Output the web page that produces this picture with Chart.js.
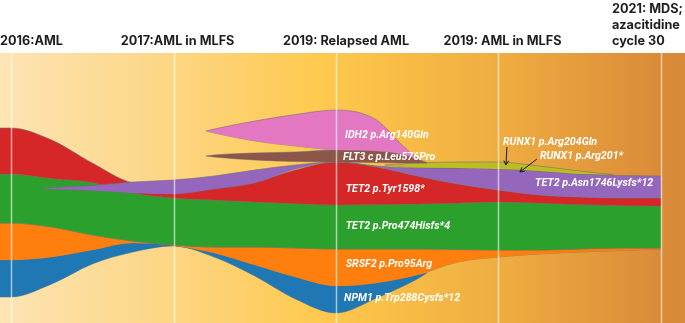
<!DOCTYPE html>
<html>
<head>
<meta charset="utf-8">
<script src="https://cdn.jsdelivr.net/npm/chart.js@4.4.1/dist/chart.umd.min.js"></script>
<style>
  body { margin: 0; background: #fff; }
  #wrap { width: 685px; height: 323px; position: relative; }
</style>
</head>
<body>
<div id="wrap"><canvas id="fish"></canvas></div>
<script>
// time points (2016 .. 2021) and their captions
const timepoints = [0, 1, 2, 3, 4];
const timeLabels = [['2016:AML'], ['2017:AML in MLFS'], ['2019: Relapsed AML'], ['2019: AML in MLFS'], ['2021: MDS;', 'azacitidine', 'cycle 30']];

// clone bands: x = time, top / bottom = vertical extent (0 at top of plot)
const npm1X      = [-0.07, 0, 0.25, 0.5, 0.75, 1, 1.25, 1.5, 1.75, 2, 2.25, 2.5, 2.56];
const npm1Top    = [260, 260, 257, 250, 243, 245.5, 253, 265, 277, 286, 283, 275, 273];
const npm1Bottom = [297, 297, 284, 264, 252, 246, 257, 276, 299, 313, 298, 279, 273];

const srsf2X      = [-0.07, 0, 0.25, 0.5, 0.75, 1, 1.25, 1.5, 1.75, 2, 2.25, 2.5, 2.75, 3, 3.25, 3.5, 3.75, 4];
const srsf2Top    = [223, 223, 227, 235, 241, 245, 247, 247, 248, 249, 249, 249, 249.5, 250, 250, 249, 248, 248];
const srsf2Bottom = [260, 260, 257, 250, 243, 245.5, 253, 265, 277, 286, 283, 275, 262, 257, 254, 252, 250.5, 249];

const tet2aX      = [-0.07, 0, 0.25, 0.5, 0.75, 1, 1.25, 1.5, 1.75, 2, 2.25, 2.5, 2.75, 3, 3.25, 3.5, 3.75, 4];
const tet2aTop    = [174, 174, 178.5, 182.5, 193, 198, 200, 202, 203.5, 205, 204.5, 204, 203, 202, 203, 204.5, 205.5, 206];
const tet2aBottom = [223, 223, 227, 235, 241, 245, 247, 247, 248, 249, 249, 249, 249.5, 250, 250, 249, 248, 248];

const tet2bX      = [-0.07, 0, 0.25, 0.5, 0.75, 1, 1.25, 1.5, 1.75, 2, 2.25, 2.5, 2.75, 3, 3.25, 3.5, 3.75, 4];
const tet2bTop    = [128, 128, 140, 163, 183, 186, 186, 182, 170, 162, 167, 176, 184, 190, 195, 197, 198, 198];
const tet2bBottom = [174, 174, 178.5, 182.5, 193, 198, 200, 202, 203.5, 205, 204.5, 204, 203, 202, 203, 204.5, 205.5, 206];

const tet2cX      = [0.19, 0.25, 0.5, 0.75, 1, 1.25, 1.5, 1.75, 2, 2.25, 2.5, 2.75, 3, 3.25, 3.5, 3.75, 4];
const tet2cTop    = [188, 187.5, 185.5, 182, 180, 176, 170, 165, 162, 166, 168, 168, 169, 171, 174, 175.5, 176];
const tet2cBottom = [188, 189, 190.5, 193, 194, 189, 183, 169, 162, 167, 176, 184, 190, 195, 197, 198, 198];

const runx1X      = [2.3, 2.5, 2.75, 3, 3.25, 3.5, 3.7];
const runx1Top    = [165, 163, 162, 162, 166, 171, 174.5];
const runx1Bottom = [165, 167.5, 168, 169, 171, 174, 174.5];

const flt3X      = [1.2, 1.25, 1.5, 1.75, 2, 2.25, 2.4, 2.5, 2.56];
const flt3Top    = [156, 155, 153, 152, 150, 151, 154, 159, 162.5];
const flt3Bottom = [156, 157, 160, 161.5, 162, 162.5, 163, 163, 163];

const idh2X      = [1.2, 1.25, 1.5, 1.75, 2, 2.25, 2.4, 2.5, 2.55];
const idh2Top    = [131, 129, 121, 114.5, 110, 120, 144, 158, 163];
const idh2Bottom = [131, 133, 141, 146, 150, 151, 154, 159, 163];

// bottom layer first
const clones = [
  { x: npm1X,  top: npm1Top,  bottom: npm1Bottom,  color: '#1f77b4' },
  { x: srsf2X, top: srsf2Top, bottom: srsf2Bottom, color: '#ff7f0e' },
  { x: tet2aX, top: tet2aTop, bottom: tet2aBottom, color: '#2ca02c' },
  { x: tet2bX, top: tet2bTop, bottom: tet2bBottom, color: '#d62728' },
  { x: tet2cX, top: tet2cTop, bottom: tet2cBottom, color: '#9467bd' },
  { x: runx1X, top: runx1Top, bottom: runx1Bottom, color: '#bcbd22' },
  { x: flt3X,  top: flt3Top,  bottom: flt3Bottom,  color: '#8c564b' },
  { x: idh2X,  top: idh2Top,  bottom: idh2Bottom,  color: '#e377c2' }
];

// text inside the plot: [text, time, y]
const cloneLabels = [
  ['IDH2 p.Arg140Gln', 2.055, 135],
  ['FLT3 c p.Leu576Pro', 2.043, 157],
  ['TET2 p.Tyr1598*', 2.06, 189],
  ['TET2 p.Pro474Hisfs*4', 2.06, 226],
  ['SRSF2 p.Pro95Arg', 2.06, 264],
  ['NPM1 p.Trp288Cysfs*12', 2.05, 298],
  ['RUNX1 p.Arg204Gln', 3.028, 142],
  ['RUNX1 p.Arg201*', 3.255, 156],
  ['TET2 p.Asn1746Lysfs*12', 3.225, 183]
];
const arrows = [
  [3.052, 147, 3.046, 165],
  [3.237, 159, 3.132, 172]
];

const datasets = [];
const n = clones.length;
clones.forEach((c, i) => {
  const common = {
    borderColor: 'rgba(110,110,110,0.7)',
    borderWidth: 0.8,
    pointRadius: 0,
    cubicInterpolationMode: 'monotone',
    order: n - i
  };
  datasets.push(Object.assign({
    data: c.x.map((t, k) => ({ x: t, y: c.top[k] })),
    fill: '+1',
    backgroundColor: c.color
  }, common));
  datasets.push(Object.assign({
    data: c.x.map((t, k) => ({ x: t, y: c.bottom[k] })),
    fill: false
  }, common));
});

const fishPlugin = {
  id: 'fish',
  beforeDraw(chart) {
    const { ctx, chartArea: a } = chart;
    const g = ctx.createLinearGradient(a.left, 0, a.right, 0);
    g.addColorStop(0, '#fde4b4');
    g.addColorStop(0.25, '#fdd684');
    g.addColorStop(0.47, '#fec94e');
    g.addColorStop(0.6, '#f7bb45');
    g.addColorStop(0.73, '#efad41');
    g.addColorStop(0.9, '#e0943a');
    g.addColorStop(0.965, '#da8b38');
    g.addColorStop(1, '#d98a3a');
    ctx.save();
    ctx.fillStyle = g;
    ctx.fillRect(a.left, a.top, a.right - a.left, a.bottom - a.top);
    ctx.restore();
  },
  afterDatasetsDraw(chart) {
    const { ctx, chartArea: a, scales: { x, y } } = chart;
    ctx.save();
    // vertical time lines
    ctx.strokeStyle = 'rgba(255,255,255,0.6)';
    ctx.lineWidth = 1.5;
    timepoints.forEach(t => {
      const px = Math.round(x.getPixelForValue(t)) + 0.5;
      ctx.beginPath();
      ctx.moveTo(px, a.top);
      ctx.lineTo(px, a.bottom);
      ctx.stroke();
    });
    // arrows
    ctx.strokeStyle = '#1a1a1a';
    ctx.lineWidth = 1;
    arrows.forEach(([t0, y0, t1, y1]) => {
      const x0 = x.getPixelForValue(t0), yy0 = y.getPixelForValue(y0);
      const x1 = x.getPixelForValue(t1), yy1 = y.getPixelForValue(y1);
      const ang = Math.atan2(yy1 - yy0, x1 - x0);
      ctx.beginPath();
      ctx.moveTo(x0, yy0);
      ctx.lineTo(x1, yy1);
      ctx.moveTo(x1 - 5 * Math.cos(ang - 0.5), yy1 - 5 * Math.sin(ang - 0.5));
      ctx.lineTo(x1, yy1);
      ctx.lineTo(x1 - 5 * Math.cos(ang + 0.5), yy1 - 5 * Math.sin(ang + 0.5));
      ctx.stroke();
    });
    // clone labels
    ctx.fillStyle = '#ffffff';
    ctx.font = 'italic bold 10.6px Roboto';
    ctx.textBaseline = 'middle';
    ctx.textAlign = 'left';
    cloneLabels.forEach(([txt, t, v]) => {
      ctx.fillText(txt, x.getPixelForValue(t), y.getPixelForValue(v));
    });
    // time point captions
    ctx.fillStyle = '#1e1e1e';
    ctx.font = 'bold 12.7px Inter';
    timeLabels.forEach((lines, i) => {
      const px = x.getPixelForValue(timepoints[i]);
      lines.forEach((ln, k) => {
        const yy = a.top - 12 - (lines.length - 1 - k) * 16;
        if (i === 0) {
          ctx.textAlign = 'left';
          ctx.fillText(ln, 0, yy);
        } else if (i === timepoints.length - 1) {
          ctx.textAlign = 'left';
          ctx.fillText(ln, px - 49, yy);
        } else {
          ctx.textAlign = 'center';
          ctx.fillText(ln, px + (i === 2 ? 10 : 4), yy);
        }
      });
    });
    ctx.restore();
  }
};

new Chart(document.getElementById('fish'), {
  type: 'line',
  data: { datasets },
  options: {
    responsive: true,
    maintainAspectRatio: false,
    animation: false,
    layout: { padding: { top: 53, left: 0, right: 0, bottom: 0 } },
    plugins: { legend: { display: false }, tooltip: { enabled: false } },
    scales: {
      x: { type: 'linear', min: -0.068, max: 4.148, display: false },
      y: { min: 53, max: 323, reverse: true, display: false }
    }
  },
  plugins: [fishPlugin]
});
</script>
</body>
</html>
